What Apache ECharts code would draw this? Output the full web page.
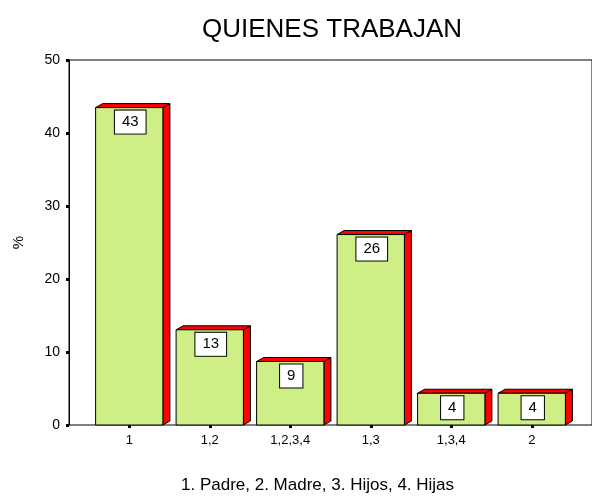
<!DOCTYPE html>
<html>
<head>
<meta charset="utf-8">
<script src="https://cdn.jsdelivr.net/npm/echarts@6/dist/echarts.min.js"></script>
<style>
  html, body { margin: 0; padding: 0; background: #fff; }
  #chart { width: 592px; height: 496px; }
</style>
</head>
<body>
<div id="chart"></div>
<script>
// datos: % de hogares segun quien trabaja (n = 23)
const categories = ['1', '1,2', '1,2,3,4', '1,3', '1,3,4', '2'];
const percents = [43.48, 13.04, 8.70, 26.09, 4.35, 4.35];
const yTicks = [0, 10, 20, 30, 40, 50];

const FONT = 'Liberation Sans, Arial, sans-serif';
const FRONT = '#cdef85';
const SIDE = '#ff0000';
const DX = 7, DY = 4;

const chart = echarts.init(document.getElementById('chart'));

// barra en 3D: cara frontal, techo y lateral, con etiqueta en caja
const renderBar = (params, api) => {
  const idx = api.value(0);
  const val = api.value(1);
  const base = api.coord([idx, 0]);
  const top = api.coord([idx, val]);
  const bw = api.size([1, 0])[0] * 0.836;
  const x0 = base[0] - bw / 2;
  const x1 = x0 + bw;
  const y0 = base[1];
  const yt = top[1];
  const line = { stroke: '#000', lineWidth: 1 };
  return {
    type: 'group',
    children: [
      {
        type: 'polygon',
        shape: { points: [[x1, y0], [x1 + DX, y0 - DY], [x1 + DX, yt - DY], [x1, yt]] },
        style: Object.assign({ fill: SIDE }, line)
      },
      {
        type: 'polygon',
        shape: { points: [[x0, yt], [x0 + DX, yt - DY], [x1 + DX, yt - DY], [x1, yt]] },
        style: Object.assign({ fill: SIDE }, line)
      },
      {
        type: 'rect',
        shape: { x: x0, y: yt, width: bw, height: y0 - yt },
        style: Object.assign({ fill: FRONT }, line)
      },
      {
        type: 'text',
        x: base[0] + 1,
        y: yt + 3,
        style: {
          text: String(Math.round(val)),
          align: 'center',
          verticalAlign: 'top',
          font: '15px ' + FONT,
          fill: '#000',
          backgroundColor: '#fff',
          borderColor: '#000',
          borderWidth: 1,
          padding: [4, 7, 4, 7]
        }
      }
    ]
  };
};

const option = {
  animation: false,
  backgroundColor: '#fff',
  title: [
    {
      text: 'QUIENES TRABAJAN',
      left: 197,
      top: 12,
      textStyle: { fontFamily: FONT, fontSize: 26, fontWeight: 'normal', color: '#000' }
    },
    {
      text: '1. Padre, 2. Madre, 3. Hijos, 4. Hijas',
      left: 176,
      top: 472,
      textStyle: { fontFamily: FONT, fontSize: 17, fontWeight: 'normal', color: '#000' }
    }
  ],
  grid: [
    // marco y eje de porcentajes
    { left: 69, right: -10, top: 60, bottom: 71, show: true, borderColor: '#000', borderWidth: 1, backgroundColor: 'transparent' },
    // zona de las barras
    { left: 89, right: 20, top: 60, bottom: 71 }
  ],
  xAxis: [
    { gridIndex: 0, type: 'value', min: 0, max: 1, show: false },
    {
      gridIndex: 1,
      type: 'category',
      data: categories,
      axisLine: { show: false },
      axisTick: { show: true, alignWithLabel: true, length: 3, lineStyle: { color: '#000', width: 3 } },
      axisLabel: { color: '#000', fontFamily: FONT, fontSize: 13, margin: 9 }
    }
  ],
  yAxis: [
    {
      gridIndex: 0,
      type: 'value',
      min: 0,
      max: 50,
      interval: 10,
      name: '%',
      nameLocation: 'middle',
      nameGap: 43,
      nameRotate: 90,
      nameTextStyle: { fontFamily: FONT, fontSize: 15, color: '#000' },
      axisLine: { show: true, lineStyle: { color: '#000', width: 1 } },
      axisTick: { show: true, length: 3, lineStyle: { color: '#000', width: 3 } },
      axisLabel: {
        color: '#000', fontFamily: FONT, fontSize: 14, margin: 9,
        formatter: v => (yTicks.includes(v) ? String(v) : '')
      },
      splitLine: { show: false }
    },
    { gridIndex: 1, type: 'value', min: 0, max: 50, show: false }
  ],
  series: [{
    type: 'custom',
    xAxisIndex: 1,
    yAxisIndex: 1,
    renderItem: renderBar,
    encode: { x: 0, y: 1 },
    data: percents.map((v, i) => [i, v])
  }]
};

chart.setOption(option);
</script>
</body>
</html>
